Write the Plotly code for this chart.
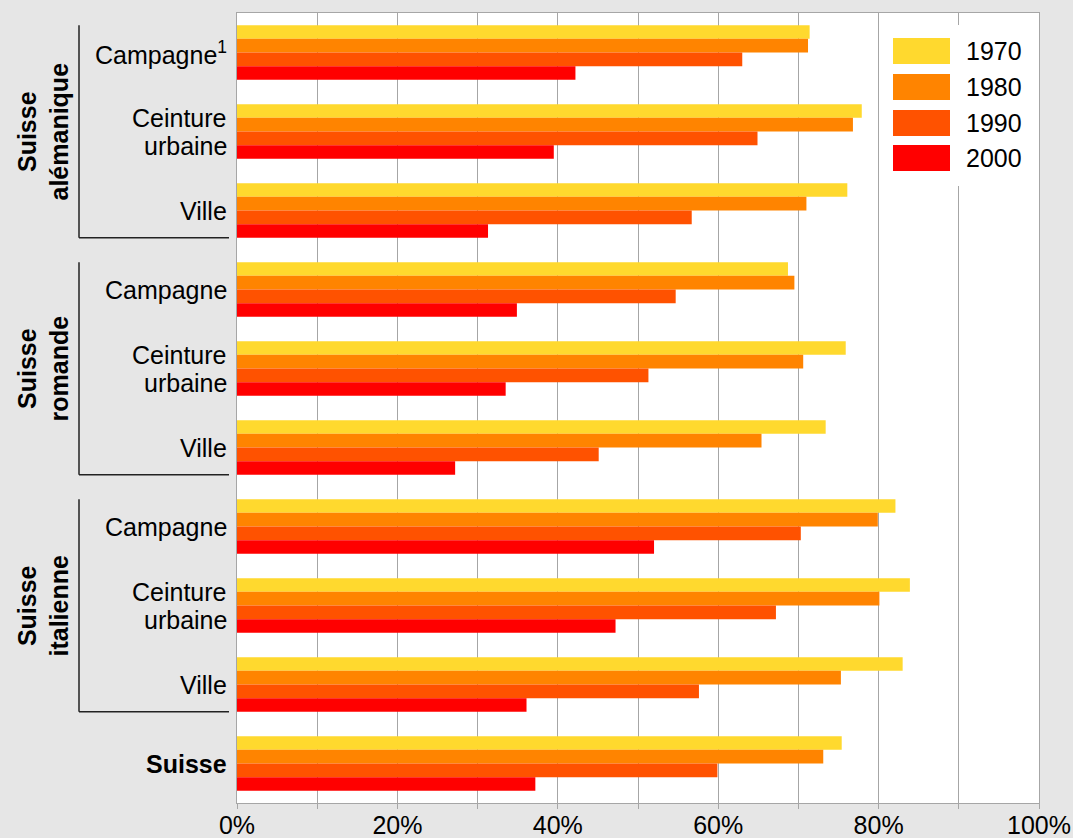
import plotly.graph_objects as go

# Homeowner share by region and settlement type, 1970-2000 (percent)
years = ["1970", "1980", "1990", "2000"]
colors = ["#FFD92E", "#FF8400", "#FF5200", "#FF0000"]

keys = ["a_camp", "a_ceint", "a_ville",
        "r_camp", "r_ceint", "r_ville",
        "i_camp", "i_ceint", "i_ville",
        "ch"]
# each category label as a list of lines
row_labels = [["Campagne<sup>1</sup>"], ["Ceinture", "urbaine"], ["Ville"],
              ["Campagne"], ["Ceinture", "urbaine"], ["Ville"],
              ["Campagne"], ["Ceinture", "urbaine"], ["Ville"],
              ["<b>Suisse</b>"]]

v1970 = [71.4, 77.9, 76.1, 68.7, 75.9, 73.4, 82.1, 83.9, 83.0, 75.4]
v1980 = [71.2, 76.8, 71.0, 69.5, 70.6, 65.4, 79.9, 80.1, 75.3, 73.1]
v1990 = [63.0, 64.9, 56.7, 54.7, 51.3, 45.1, 70.3, 67.2, 57.6, 59.9]
v2000 = [42.2, 39.5, 31.3, 34.9, 33.5, 27.2, 52.0, 47.2, 36.1, 37.2]
series = [v1970, v1980, v1990, v2000]

x_ticks = [0, 20, 40, 60, 80, 100]
x_tick_text = ["0%", "20%", "40%", "60%", "80%", "100%"]

regions = ["Suisse<br>alémanique", "Suisse<br>romande", "Suisse<br>italienne"]
region_rows = [(0, 2), (3, 5), (6, 8)]

FONT = "Liberation Sans, Arial, sans-serif"
BG = "#E6E6E6"
GRID = "#A6A6A6"
BARGAP = 0.31
FS = 25

fig = go.Figure()
for name, vals, col in zip(years, series, colors):
    fig.add_trace(go.Bar(
        y=keys, x=vals, name=name, orientation="h",
        marker=dict(color=col, line=dict(width=0)),
        showlegend=False,
    ))

# pixel geometry of the plotting area
W, H = 1073, 838
L, R, T, B = 237, 34, 13, 35
pw, ph = W - L - R, H - T - B


def px_x(p):
    return (p - L) / pw


def px_y(p):
    return (H - B - p) / ph


shapes = []
annotations = []
half = (1 - BARGAP) / 2

# category labels, right-aligned next to the axis
LINE_STEP = 28
for key, lines in zip(keys, row_labels):
    n = len(lines)
    for j, line in enumerate(lines):
        annotations.append(dict(
            xref="paper", yref="y", x=px_x(229), y=key,
            yshift=-(j - (n - 1) / 2) * LINE_STEP,
            text=line, showarrow=False, xanchor="right", yanchor="middle",
            font=dict(family=FONT, size=FS, color="#000000")))

# region brackets and rotated region labels
for label, (i0, i1) in zip(regions, region_rows):
    shapes.append(dict(type="line", xref="paper", yref="y",
                       x0=px_x(79), x1=px_x(79), y0=i0 - half, y1=i1 + half,
                       line=dict(color="#222222", width=1.5)))
    shapes.append(dict(type="line", xref="paper", yref="y",
                       x0=px_x(79), x1=px_x(229), y0=i1 + half, y1=i1 + half,
                       line=dict(color="#222222", width=1.5)))
    annotations.append(dict(xref="paper", yref="y", x=px_x(43), y=(i0 + i1) / 2,
                            text=f"<b>{label}</b>", textangle=-90, showarrow=False,
                            font=dict(family=FONT, size=FS, color="#000000"),
                            xanchor="center", yanchor="middle"))

# legend panel
shapes.append(dict(type="rect", xref="paper", yref="paper", layer="above",
                   x0=px_x(880), x1=px_x(1038), y0=px_y(186), y1=px_y(25),
                   fillcolor="white", line=dict(width=0)))
row_tops = [38, 74, 110, 145]
for name, col, top in zip(years, colors, row_tops):
    shapes.append(dict(type="rect", xref="paper", yref="paper", layer="above",
                       x0=px_x(893), x1=px_x(950), y0=px_y(top + 26), y1=px_y(top),
                       fillcolor=col, line=dict(width=0)))
    annotations.append(dict(xref="paper", yref="paper", x=px_x(964), y=px_y(top + 13),
                            text=name, showarrow=False, xanchor="left", yanchor="middle",
                            font=dict(family=FONT, size=FS, color="#000000")))

fig.update_layout(
    width=W, height=H,
    margin=dict(l=L, r=R, t=T, b=B, pad=0, autoexpand=False),
    paper_bgcolor=BG, plot_bgcolor="white",
    barmode="group", bargap=BARGAP, bargroupgap=0,
    font=dict(family=FONT, size=FS, color="#000000"),
    shapes=shapes, annotations=annotations,
    showlegend=False,
)
fig.update_xaxes(
    range=[0, 100], tickmode="array", tickvals=x_ticks, ticktext=x_tick_text,
    showgrid=True, gridcolor=GRID, gridwidth=1,
    ticks="outside", ticklen=5, tickcolor=GRID,
    minor=dict(dtick=10, showgrid=True, gridcolor=GRID, gridwidth=1,
               ticks="outside", ticklen=5, tickcolor=GRID),
    showline=True, linecolor=GRID, linewidth=1, mirror=True,
    zeroline=False, tickfont=dict(size=FS), automargin=False,
    ticklabelstandoff=-5,
)
fig.update_yaxes(
    categoryorder="array", categoryarray=keys,
    autorange="reversed", showgrid=False, ticks="", showticklabels=False,
    showline=True, linecolor=GRID, linewidth=1, mirror=True,
    automargin=False,
)

fig.write_html("out.html")
